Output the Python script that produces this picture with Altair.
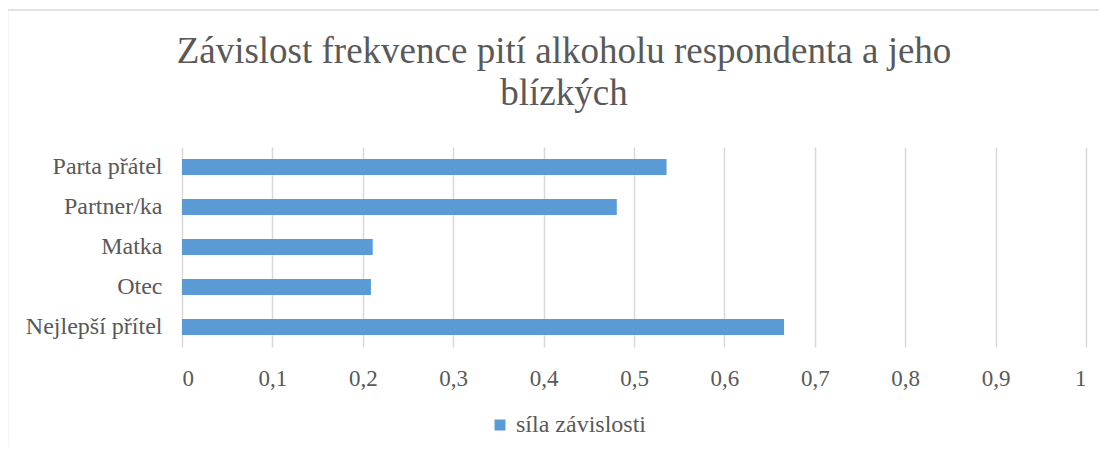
import altair as alt
import pandas as pd

categories = ["Parta přátel", "Partner/ka", "Matka", "Otec", "Nejlepší přítel"]
values = [0.536, 0.481, 0.211, 0.209, 0.666]
series_name = "síla závislosti"
title_lines = ["Závislost frekvence pití alkoholu respondenta a jeho", "blízkých"]

df = pd.DataFrame({"kategorie": categories, "hodnota": values, "serie": [series_name] * len(categories)})
one = pd.DataFrame({"t": [0]})

TXT = "#595959"
FONT = "Liberation Serif"

bars = alt.Chart(df).mark_bar(color="#5B9BD5").encode(
    y=alt.Y("kategorie:N", sort=categories, title=None,
            scale=alt.Scale(paddingInner=0.6, paddingOuter=0.3),
            axis=alt.Axis(labelFont=FONT, labelFontSize=24, labelColor=TXT,
                          labelPadding=20, ticks=False, domain=False, grid=False)),
    x=alt.X("hodnota:Q", title=None,
            scale=alt.Scale(domain=[0, 1], nice=False),
            axis=alt.Axis(values=[0, 0.1, 0.2, 0.3, 0.4, 0.5, 0.6, 0.7, 0.8, 0.9, 1.0],
                          labelExpr="replace(format(datum.value, '.1~f'), '.', ',')",
                          labelFont=FONT, labelFontSize=23, labelColor=TXT,
                          labelPadding=20, ticks=False, domain=False,
                          grid=True, gridColor="#D9D9D9", gridWidth=1.5)),
    color=alt.Color("serie:N", scale=alt.Scale(range=["#5B9BD5"]), title=None,
                    legend=alt.Legend(orient="none", legendX=306, legendY=266,
                                      symbolType="square", symbolSize=121,
                                      symbolStrokeWidth=0, symbolFillColor="#5B9BD5",
                                      labelFont=FONT, labelFontSize=24, labelColor=TXT,
                                      labelOffset=4, padding=0)),
)

title = alt.Chart(one).mark_text(font=FONT, fontSize=37, color=TXT, align="center",
                                 baseline="alphabetic", lineHeight=42).encode(
    x=alt.value(382), y=alt.value(-84), text=alt.value(title_lines)
)

border_left = alt.Chart(one).mark_rule(color="#D9D9D9", strokeWidth=1.5).encode(
    x=alt.value(-174.5), y=alt.value(-137), y2=alt.value(300)
)
border_top = alt.Chart(one).mark_rule(color="#D9D9D9", strokeWidth=1.5).encode(
    x=alt.value(-175), x2=alt.value(930), y=alt.value(-137)
)

chart = alt.layer(border_left, border_top, bars, title).properties(
    width=904, height=200,
    padding={"left": 174, "top": 139, "right": 13, "bottom": 100},
    autosize=alt.AutoSizeParams(type="none"),
).configure_view(stroke=None)

chart.save("out.html", embed_options={"renderer": "svg", "actions": False})
